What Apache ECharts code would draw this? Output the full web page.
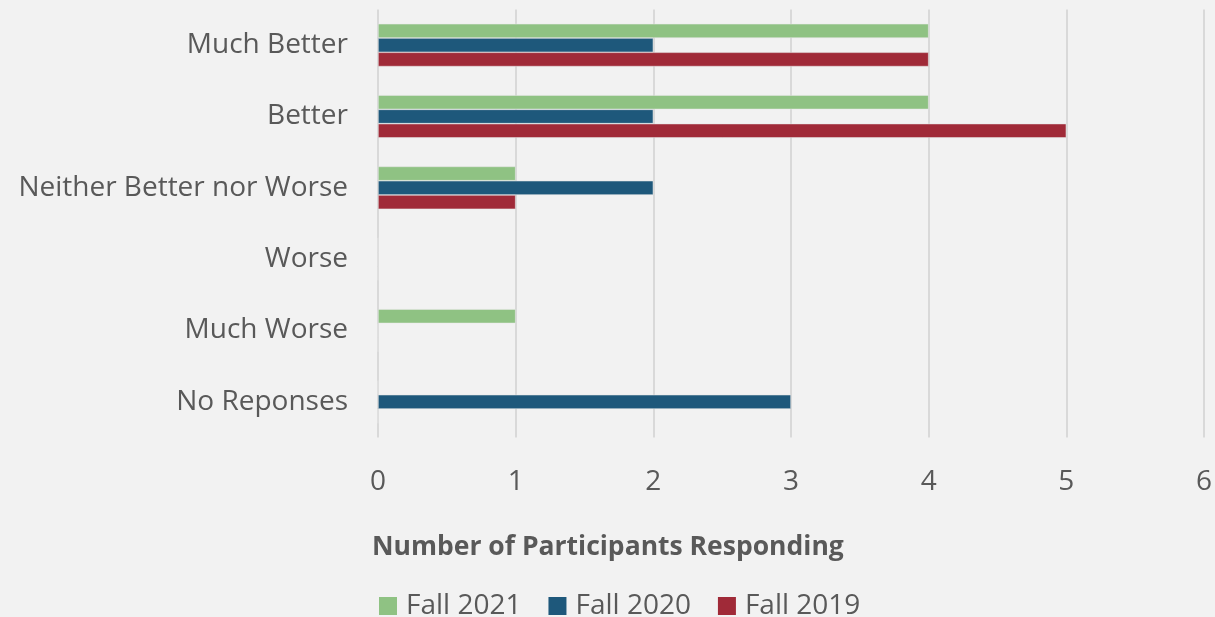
<!DOCTYPE html>
<html>
<head>
<meta charset="utf-8">
<script src="https://cdn.jsdelivr.net/npm/echarts@6/dist/echarts.min.js"></script>
<style>
  html, body { margin: 0; padding: 0; background: #f2f2f2; }
  #chart { width: 1215px; height: 617px; }
</style>
</head>
<body>
<div id="chart"></div>
<script>
// Survey responses, top to bottom
const categories = ['Much Better', 'Better', 'Neither Better nor Worse', 'Worse', 'Much Worse', 'No Reponses'];
const fall2021 = [4, 4, 1, 0, 1, 0];
const fall2020 = [2, 2, 2, 0, 0, 3];
const fall2019 = [4, 5, 1, 0, 0, 0];
const xTicks = [0, 1, 2, 3, 4, 5, 6];

const textColor = '#595959';
const font = '"Open Sans", "Liberation Sans", sans-serif';

const chart = echarts.init(document.getElementById('chart'));

function barSeries(name, data, color) {
  return {
    name: name,
    type: 'bar',
    data: data,
    barGap: '0%',
    barCategoryGap: '40%',
    itemStyle: { color: color, borderColor: 'rgba(230,230,230,0.9)', borderWidth: 0.6 }
  };
}

chart.setOption({
  backgroundColor: '#f2f2f2',
  animation: false,
  textStyle: { fontFamily: font },
  grid: { left: 378, right: 9, top: 9.5, bottom: 179.5, containLabel: false },
  title: {
    text: 'Number of Participants Responding',
    left: 367,
    top: 529,
    textStyle: { color: textColor, fontSize: 26.5, fontWeight: 'bold', fontFamily: font }
  },
  legend: {
    left: 374,
    top: 587,
    itemWidth: 18,
    itemHeight: 18,
    itemGap: 27,
    icon: 'rect',
    itemStyle: { borderWidth: 0 },
    textStyle: { color: textColor, fontSize: 28, fontFamily: font, padding: [0, 0, 0, 4] },
    data: ['Fall 2021', 'Fall 2020', 'Fall 2019']
  },
  xAxis: {
    type: 'value',
    min: xTicks[0],
    max: xTicks[xTicks.length - 1],
    interval: 1,
    axisLine: { show: false },
    axisTick: { show: false },
    splitLine: { show: true, lineStyle: { color: '#d9d9d9', width: 2 } },
    axisLabel: { color: textColor, fontSize: 28, margin: 31, fontFamily: font }
  },
  yAxis: {
    type: 'category',
    data: categories,
    inverse: true,
    axisLine: { show: false },
    axisTick: { show: false },
    axisLabel: { color: textColor, fontSize: 28, margin: 30, fontFamily: font, lineHeight: 32, padding: [4, 0, 0, 0] }
  },
  series: [
    barSeries('Fall 2021', fall2021, '#8fc283'),
    barSeries('Fall 2020', fall2020, '#1e587b'),
    barSeries('Fall 2019', fall2019, '#a02a38')
  ]
});
</script>
</body>
</html>
